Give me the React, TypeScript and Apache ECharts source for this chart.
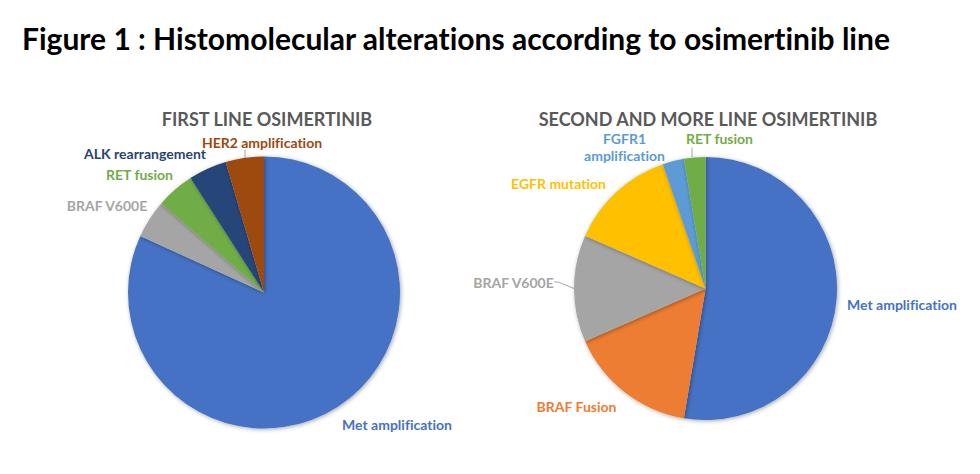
import React, { useEffect, useRef } from "react";
import * as echarts from "echarts";

// ---- Data ----
const firstLineCategories = ["Met amplification", "BRAF V600E", "RET fusion", "ALK rearrangement", "HER2 amplification"];
const firstLineValues = [18, 1, 1, 1, 1];
const firstLineColors = ["#4472C4", "#A5A5A5", "#70AD47", "#264478", "#9E480E"];

const secondLineCategories = ["Met amplification", "BRAF Fusion", "BRAF V600E", "EGFR mutation", "FGFR1\namplification", "RET fusion"];
const secondLineValues = [20, 6, 5, 5, 1, 1];
const secondLineColors = ["#4472C4", "#ED7D31", "#A5A5A5", "#FFC000", "#5B9BD5", "#70AD47"];

const mainTitle = "Figure 1 : Histomolecular alterations according to osimertinib line";
const firstTitle = "FIRST LINE OSIMERTINIB";
const secondTitle = "SECOND AND MORE LINE OSIMERTINIB";

// ---- Layout (label placement, leader lines) ----
const firstLabelPos = [[397, 424], [107, 205], [139.5, 174], [145, 153], [262, 142]];
const firstLeader = [false, false, false, false, false];
const secondLabelPos = [[902, 304], [576.5, 406], [513.5, 282], [558.5, 183], [624.5, 146.5], [719.5, 138.5]];
const secondLeader = [false, false, true, false, false, false];
// short vertical leader segments [x, y1, y2]
const extraLeaders = [[245, 150, 158], [692, 147.5, 157]];

const FONT = "Lato, 'Open Sans', sans-serif";

function buildData(cats: string[], vals: number[], colors: string[], leaders: boolean[]) {
  return cats.map((name, i) => ({
    name,
    value: vals[i],
    itemStyle: { color: colors[i] },
    label: { color: colors[i] },
    labelLine: { show: leaders[i] },
  }));
}

export default function App() {
  const ref = useRef<HTMLDivElement>(null);
  useEffect(() => {
    if (!ref.current) return;
    const chart = echarts.init(ref.current, undefined, { renderer: "svg" });
    const commonSeries = {
      type: "pie",
      clockwise: true,
      startAngle: 90,
      avoidLabelOverlap: false,
      itemStyle: {
        borderWidth: 0,
        shadowBlur: 4,
        shadowColor: "rgba(0,0,0,0.35)",
        shadowOffsetX: 1,
        shadowOffsetY: 1,
      },
      label: {
        show: true,
        position: "outside",
        fontFamily: FONT,
        fontWeight: "bold",
        fontSize: 14,
        lineHeight: 17,
        formatter: "{b}",
      },
      labelLine: {
        show: true,
        length: 4,
        length2: 4,
        smooth: false,
        lineStyle: { color: "#A6A6A6", width: 1 },
      },
      emphasis: { disabled: true },
    };
    chart.setOption({
      animation: false,
      title: [
        {
          text: mainTitle,
          left: 17,
          top: 18,
          textStyle: { fontFamily: FONT, fontWeight: "bold", fontSize: 30, color: "#000000" },
        },
        {
          text: firstTitle,
          left: 262,
          top: 105,
          textAlign: "center",
          textStyle: { fontFamily: FONT, fontWeight: "bold", fontSize: 18, color: "#595959" },
        },
        {
          text: secondTitle,
          left: 703,
          top: 105,
          textAlign: "center",
          textStyle: { fontFamily: FONT, fontWeight: "bold", fontSize: 18, color: "#595959" },
        },
      ],
      graphic: extraLeaders.map((l) => ({
        type: "line",
        shape: { x1: l[0], y1: l[1], x2: l[0], y2: l[2] },
        style: { stroke: "#A6A6A6", lineWidth: 1 },
        silent: true,
      })),
      series: [
        {
          ...commonSeries,
          center: [264, 292.5],
          radius: 136,
          data: buildData(firstLineCategories, firstLineValues, firstLineColors, firstLeader),
          labelLayout: (p: any) => ({
            x: firstLabelPos[p.dataIndex][0],
            y: firstLabelPos[p.dataIndex][1],
            align: "center",
            verticalAlign: "middle",
          }),
        },
        {
          ...commonSeries,
          center: [705.5, 288.5],
          radius: 131.5,
          data: buildData(secondLineCategories, secondLineValues, secondLineColors, secondLeader),
          labelLayout: (p: any) => ({
            x: secondLabelPos[p.dataIndex][0],
            y: secondLabelPos[p.dataIndex][1],
            align: "center",
            verticalAlign: "middle",
          }),
        },
      ],
    });
    return () => chart.dispose();
  }, []);
  return (
    <>
      <style>{"svg text { font-variant-ligatures: none; font-feature-settings: 'liga' 0, 'clig' 0; }"}</style>
      <div
        ref={ref}
        style={{ position: "fixed", left: 0, top: 0, width: 980, height: 474, background: "#ffffff" }}
      />
    </>
  );
}
